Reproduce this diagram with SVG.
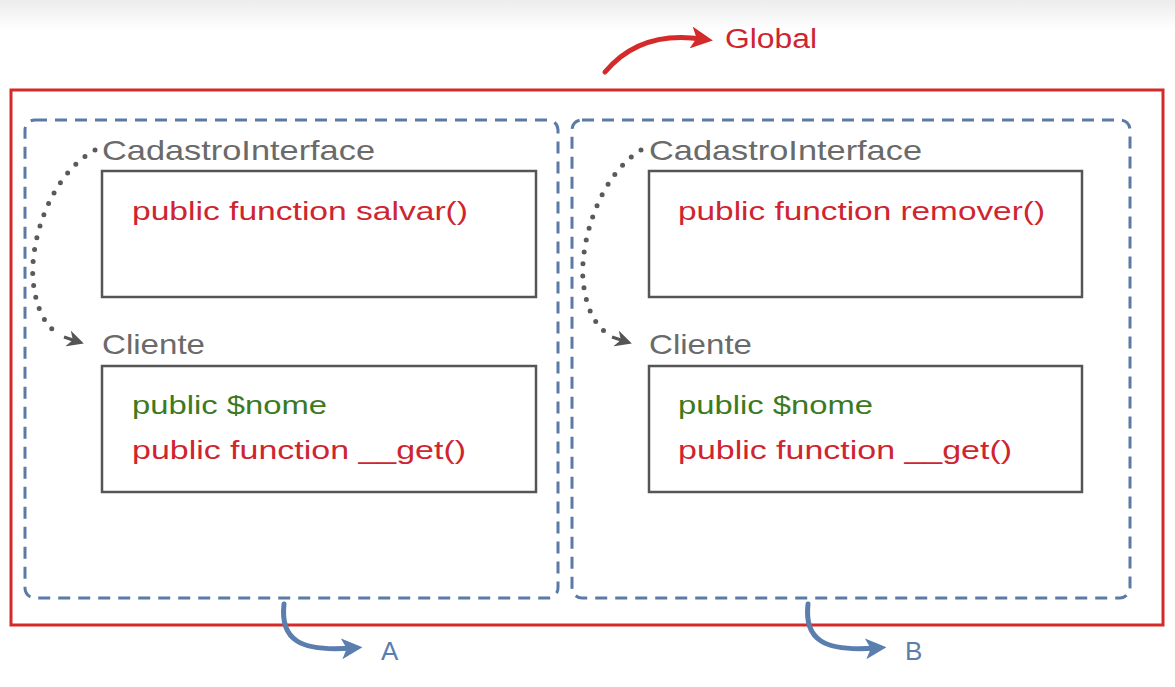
<svg xmlns="http://www.w3.org/2000/svg" width="1175" height="687" viewBox="0 0 1175 687">
<defs>
<linearGradient id="bg" x1="0" y1="0" x2="0" y2="1">
<stop offset="0" stop-color="#ececec"/><stop offset="1" stop-color="#ffffff"/>
</linearGradient>
<marker id="ar" viewBox="0 0 10 10" refX="5" refY="5" markerWidth="4.4" markerHeight="4.4" orient="auto" markerUnits="strokeWidth"><path d="M0,0 L10,5 L0,10 L2.5,5 Z" fill="#d42a2a"/></marker>
<marker id="ab" viewBox="0 0 10 10" refX="5" refY="5" markerWidth="4.2" markerHeight="4.2" orient="auto" markerUnits="strokeWidth"><path d="M0,0 L10,5 L0,10 L2.5,5 Z" fill="#5a7fae"/></marker>
<marker id="ag" viewBox="0 0 10 10" refX="5" refY="5" markerWidth="5.5" markerHeight="5.5" orient="auto" markerUnits="strokeWidth"><path d="M0,0 L10,5 L0,10 L3,5 Z" fill="#555"/></marker>
</defs>
<style>
.lbl{font-family:"Liberation Sans",Arial,sans-serif;font-size:28px;fill:#6a6a6a}
.fn{font-family:"Liberation Sans",Arial,sans-serif;font-size:26px;fill:#cf2530}
.var{font-family:"Liberation Sans",Arial,sans-serif;font-size:26px;fill:#3d7a1f}
.box{fill:#fff;stroke:#555;stroke-width:2.5}
.scope{fill:none;stroke:#5b7ba6;stroke-width:3;stroke-dasharray:12 8}
.dots{fill:none;stroke:#5a5a5a;stroke-width:5;stroke-linecap:round;stroke-dasharray:0 12}
.blue{fill:none;stroke:#5a7fae;stroke-width:5;stroke-linecap:round}
.tag{font-family:"Liberation Sans",Arial,sans-serif;font-size:26px;fill:#5a7fae}
</style>
<rect x="0" y="0" width="1175" height="687" fill="#fff"/>
<rect x="0" y="0" width="1175" height="30" fill="url(#bg)"/>
<g id="global">
<rect x="11" y="90" width="1152" height="535" fill="none" stroke="#d42a2a" stroke-width="3"/>
<text x="725" y="48" font-family="Liberation Sans, Arial, sans-serif" font-size="27" fill="#cf2530" textLength="92" lengthAdjust="spacingAndGlyphs">Global</text>
</g>
<g id="scopeA">
<rect class="scope" x="25" y="120" width="533" height="478" rx="10"/>
<text class="tag" x="381" y="660">A</text>
</g>
<g id="scopeB">
<rect class="scope" x="572" y="120" width="558" height="478" rx="10"/>
<text class="tag" x="905" y="660">B</text>
</g>
<g id="ifaceA">
<text class="lbl" x="102" y="160" textLength="273" lengthAdjust="spacingAndGlyphs">CadastroInterface</text>
<rect class="box" x="102" y="171" width="434" height="126"/>
<text class="fn" x="132" y="220" textLength="336" lengthAdjust="spacingAndGlyphs">public function salvar()</text>
</g>
<g id="clienteA">
<text class="lbl" x="102" y="354" textLength="103" lengthAdjust="spacingAndGlyphs">Cliente</text>
<rect class="box" x="102" y="366" width="434" height="126"/>
<text class="var" x="132" y="414" textLength="195" lengthAdjust="spacingAndGlyphs">public $nome</text>
<text class="fn" x="132" y="459" textLength="334" lengthAdjust="spacingAndGlyphs">public function __get()</text>
</g>
<g id="ifaceB">
<text class="lbl" x="649" y="160" textLength="273" lengthAdjust="spacingAndGlyphs">CadastroInterface</text>
<rect class="box" x="649" y="171" width="433" height="126"/>
<text class="fn" x="678" y="220" textLength="367" lengthAdjust="spacingAndGlyphs">public function remover()</text>
</g>
<g id="clienteB">
<text class="lbl" x="649" y="354" textLength="103" lengthAdjust="spacingAndGlyphs">Cliente</text>
<rect class="box" x="649" y="366" width="433" height="126"/>
<text class="var" x="678" y="414" textLength="195" lengthAdjust="spacingAndGlyphs">public $nome</text>
<text class="fn" x="678" y="459" textLength="334" lengthAdjust="spacingAndGlyphs">public function __get()</text>
</g>
<g id="connectors">
<path d="M605,72 Q640,30 702,39" fill="none" stroke="#d42a2a" stroke-width="5" stroke-linecap="round" marker-end="url(#ar)"/>
<path class="dots" d="M95,150 C50,175 30,240 33,280 C36,310 46,326 58,334"/>
<path d="M64,337 L76,341" stroke="#555" stroke-width="3" fill="none" marker-end="url(#ag)"/>
<path class="dots" d="M641,150 C600,175 580,240 583,280 C586,310 596,326 608,334"/>
<path d="M612,337 L624,341" stroke="#555" stroke-width="3" fill="none" marker-end="url(#ag)"/>
<path class="blue" d="M284,604 C280,640 300,652 352,648" marker-end="url(#ab)"/>
<path class="blue" d="M808,604 C804,640 824,652 876,648" marker-end="url(#ab)"/>
</g>
</svg>
